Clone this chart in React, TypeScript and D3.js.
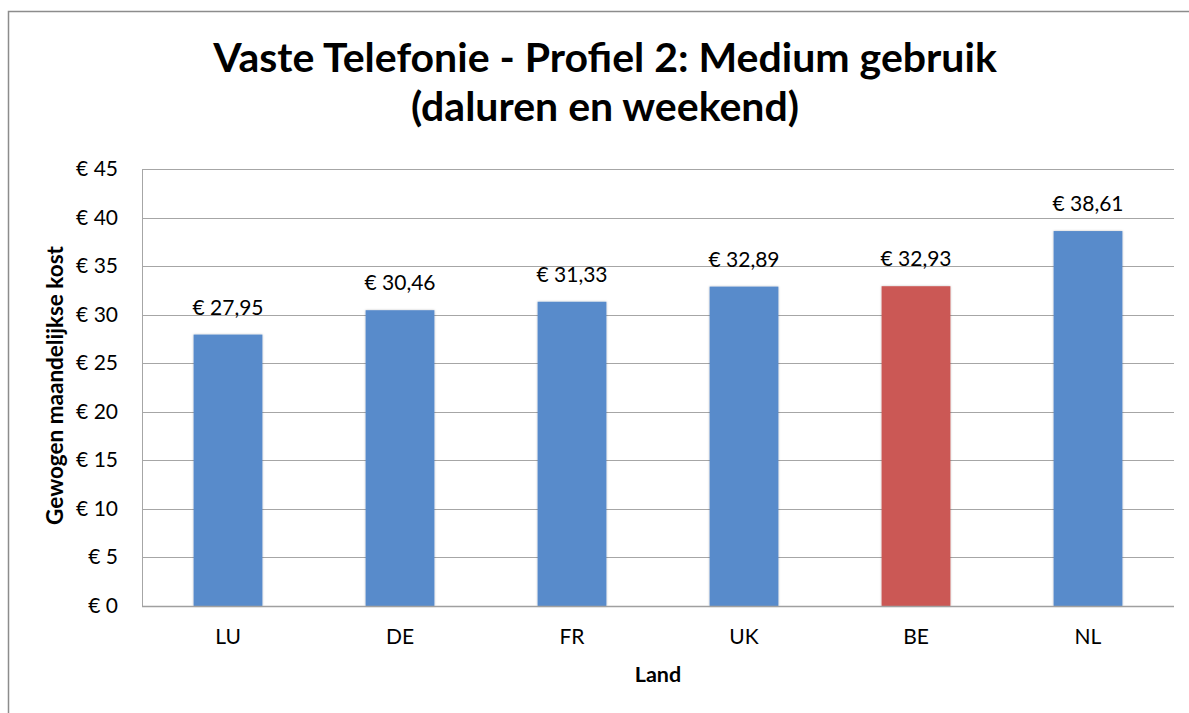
import * as d3 from 'd3';
import { useEffect } from 'react';

const countries = ['LU', 'DE', 'FR', 'UK', 'BE', 'NL'];
const costs = [27.95, 30.46, 31.33, 32.89, 32.93, 38.61];
const highlighted = ['BE'];
const yTicks = [0, 5, 10, 15, 20, 25, 30, 35, 40, 45];

const W = 1189;
const H = 713;
const font = 'Lato, "Open Sans", sans-serif';
const plot = { left: 142, right: 1174, top: 169, bottom: 606 };

const fmt = (v: number) => '€ ' + v.toFixed(2).replace('.', ',');

export default function App() {
  useEffect(() => {
    document.body.style.margin = '0';
    document.body.style.overflow = 'hidden';
  }, []);

  const x = d3
    .scaleBand<string>()
    .domain(countries)
    .range([plot.left, plot.right])
    .paddingInner(0.6)
    .paddingOuter(0.3);

  const y = d3.scaleLinear().domain([0, 45]).range([plot.bottom, plot.top]);

  return (
    <svg
      width={W}
      height={H}
      style={{ position: 'absolute', left: 0, top: 0, background: '#fff', display: 'block' }}
      fontFamily={font}
    >
      <defs>
        <filter id='barShadow' x='-10%' y='-10%' width='120%' height='120%'>
          <feDropShadow dx='0' dy='0' stdDeviation='1.2' floodColor='#000' floodOpacity='0.25' />
        </filter>
      </defs>

      {/* rand van het grafiekgebied: alleen links en boven zichtbaar */}
      <path d={`M8.5,${H} V11.5 H${W}`} fill='none' stroke='#8c8c8c' strokeWidth={1.5} />

      <text x={605} y={72} textAnchor='middle' fontSize={41} fontWeight={700} fill='#000'>
        Vaste Telefonie - Profiel 2: Medium gebruik
      </text>
      <text x={605} y={121} textAnchor='middle' fontSize={41} fontWeight={700} fill='#000'>
        (daluren en weekend)
      </text>

      {/* rasterlijnen */}
      {yTicks.map((t) => (
        <g key={t}>
          {t > 0 && (
            <line
              x1={plot.left}
              x2={plot.right}
              y1={Math.round(y(t)) + 0.5}
              y2={Math.round(y(t)) + 0.5}
              stroke='#a6a6a6'
              strokeWidth={1}
            />
          )}
          <text x={118} y={y(t) + 7} textAnchor='end' fontSize={21} fill='#000'>
            {'€ ' + t}
          </text>
        </g>
      ))}

      <line x1={plot.left + 0.5} x2={plot.left + 0.5} y1={plot.top} y2={plot.bottom} stroke='#a6a6a6' />

      {countries.map((c, i) => {
        const v = costs[i];
        const bx = x(c) ?? 0;
        const cx = bx + x.bandwidth() / 2;
        return (
          <g key={c}>
            <rect
              x={bx}
              y={y(v)}
              width={x.bandwidth()}
              height={plot.bottom - y(v)}
              fill={highlighted.includes(c) ? '#cb5854' : '#588bcb'}
              filter='url(#barShadow)'
            />
            <text x={cx} y={y(v) - 20} textAnchor='middle' fontSize={21} fill='#000'>
              {fmt(v)}
            </text>
            <text x={cx} y={644} textAnchor='middle' fontSize={21} fill='#000'>
              {c}
            </text>
          </g>
        );
      })}

      <line x1={plot.left} x2={plot.right} y1={plot.bottom + 0.5} y2={plot.bottom + 0.5} stroke='#a0a0a0' strokeWidth={1.5} />

      <text x={(plot.left + plot.right) / 2} y={682} textAnchor='middle' fontSize={21.5} fontWeight={700} fill='#000'>
        Land
      </text>
      <text
        transform={`translate(63,${(plot.top + plot.bottom) / 2 - 2}) rotate(-90)`}
        textAnchor='middle'
        fontSize={22.5}
        fontWeight={700}
        fill='#000'
      >
        Gewogen maandelijkse kost
      </text>
    </svg>
  );
}
